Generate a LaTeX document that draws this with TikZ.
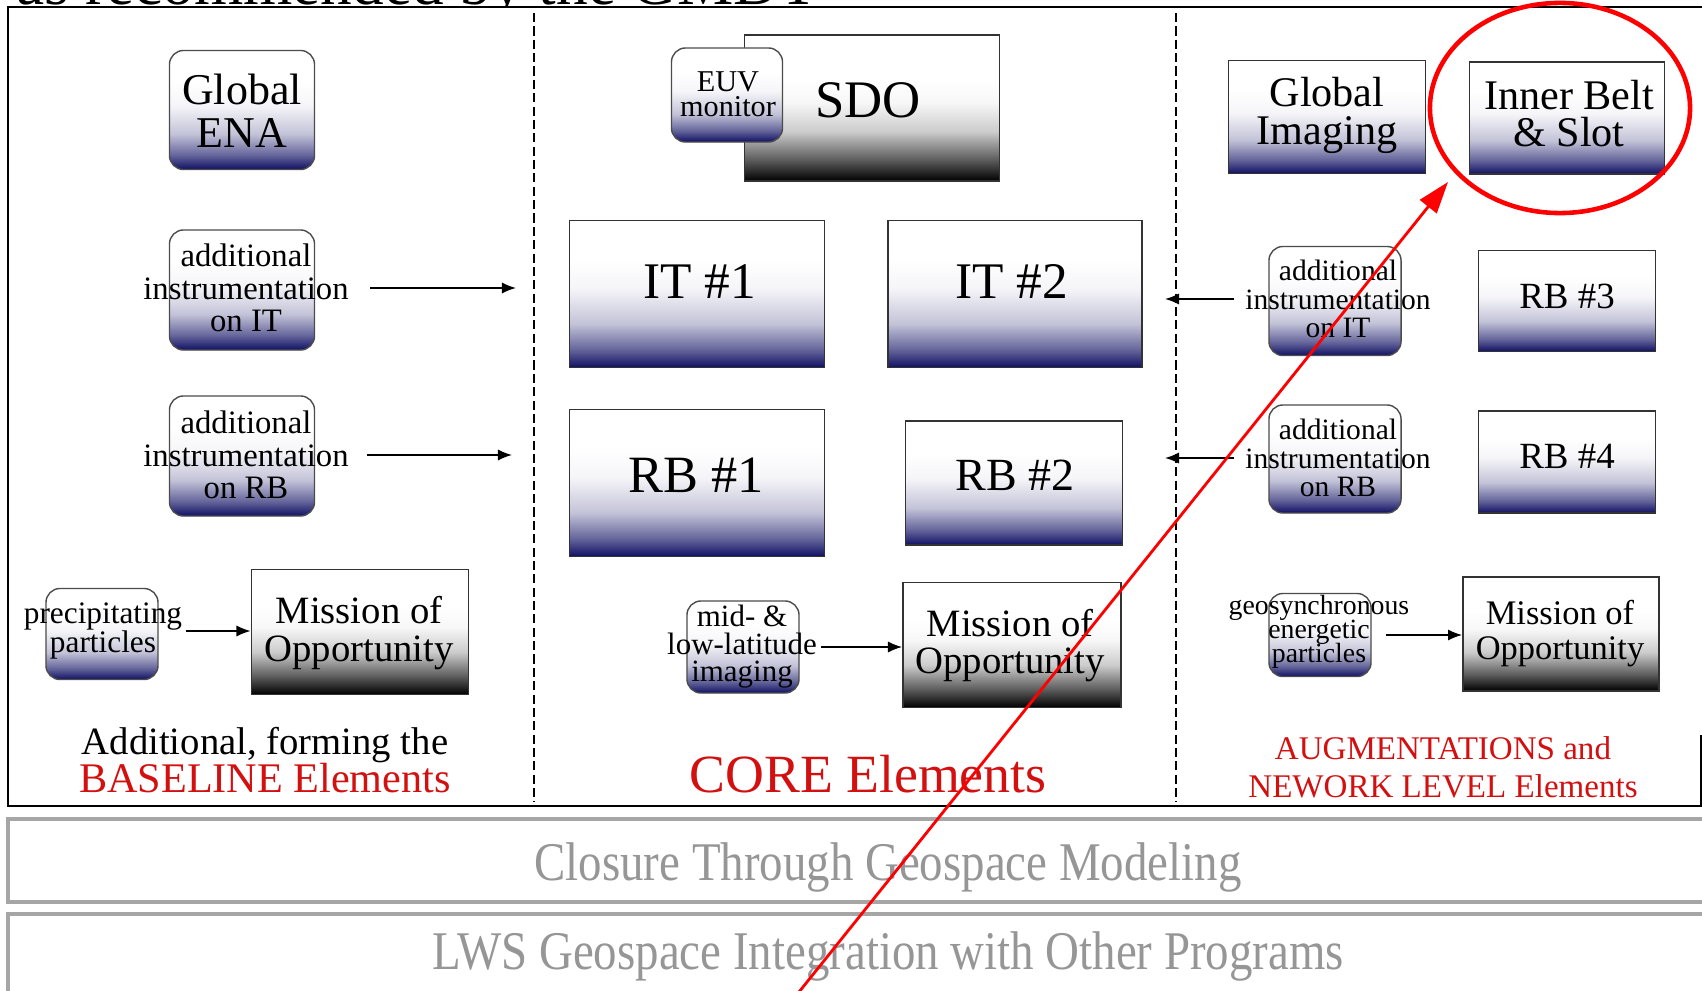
\documentclass[tikz,border=0pt]{standalone}
\usepackage{fontspec}
\setmainfont{Liberation Serif}
\usepackage{graphicx}
\usetikzlibrary{arrows.meta, shapes.geometric, positioning}

\definecolor{navyink}{RGB}{16,16,100}
\definecolor{capred}{RGB}{210,16,16}
\definecolor{bandgrey}{RGB}{150,150,150}

\pgfdeclareverticalshading{navyfade}{100bp}{color(0bp)=(navyink); color(25bp)=(navyink); color(31bp)=(navyink!65!white); color(40bp)=(navyink!25!white); color(52bp)=(navyink!4!white); color(62bp)=(white); color(100bp)=(white)}
\pgfdeclareverticalshading{greyfade}{100bp}{color(0bp)=(black); color(25bp)=(black); color(32bp)=(black!65); color(42bp)=(black!20); color(52bp)=(black!3); color(60bp)=(white); color(100bp)=(white)}

\newcommand\setfs[2]{\fontsize{#1}{#2}\selectfont\lineskiplimit=-20pt\relax}

\tikzset{
    softbox/.style={draw=black!70, line width=0.4pt, rounded corners=4pt, shading=navyfade, inner sep=0pt},
    bluebox/.style={draw=black!80, line width=0.5pt, shading=navyfade, inner sep=0pt},
    greybox/.style={draw=black!80, line width=0.5pt, shading=greyfade, inner sep=0pt},
    lbl/.style={align=center, inner sep=0pt},
    flow/.style={-{Latex[length=4pt,width=3.2pt]}, line width=0.45pt},
    band/.style={draw=black!35, line width=1.1pt},
    divider/.style={dash pattern=on 2.6pt off 1.2pt, line width=0.5pt}
}

\begin{document}
\begin{tikzpicture}[x=0.01cm, y=-0.01cm]
\useasboundingbox (0,0) rectangle (1702,991);

% title cut at the top edge
\begin{scope}
    \clip (0,0) rectangle (1702,7);
    \node[anchor=base west, inner sep=0pt, font=\setfs{18}{18}] (title) at (16,5) {as recommended by the GMDT};
\end{scope}

% frame and dividers
\draw[line width=0.7pt] (1702,7) -- (8,7) -- (8,806) -- (1701,806) -- (1701,735);
\draw[divider] (534,13) -- (534,802);
\draw[divider] (1176,13) -- (1176,802);

% baseline column
\node[softbox, minimum width=1.45cm, minimum height=1.19cm] (ena) at (242,110) {};
\node[lbl, font=\setfs{12.5}{12.3}] (enaT) at (242,111) {Global\\ENA};
\node[softbox, minimum width=1.45cm, minimum height=1.2cm] (itl) at (242,290) {};
\node[lbl, font=\setfs{9.3}{9.3}] (itlT) at (246,288) {additional\\instrumentation\\on IT};
\node[softbox, minimum width=1.45cm, minimum height=1.2cm] (rbl) at (242,456) {};
\node[lbl, font=\setfs{9.3}{9.3}] (rblT) at (246,455) {additional\\instrumentation\\on RB};
\node[softbox, minimum width=1.12cm, minimum height=0.91cm] (prec) at (102,634) {};
\node[lbl, font=\setfs{8.9}{8.5}] (precT) at (103,631) {precipitating\\particles};
\node[greybox, minimum width=2.17cm, minimum height=1.25cm] (moL) at (360,632) {};
\node[lbl, font=\setfs{11}{10.8}] (moLT) at (359,633) {Mission of\\Opportunity};
\node[lbl, font=\setfs{11}{10.8}] (capL) at (265,760) {Additional, forming the\\\setfs{12}{10.8}\textcolor{capred}{BASELINE Elements}};

\coordinate (itIn) at (516,288);
\coordinate (rbIn) at (512,455);
\draw[flow] ([xshift=6pt]itlT.east) -- (itIn);
\draw[flow] ([xshift=5pt]rblT.east) -- (rbIn);
\draw[flow] ([xshift=1pt]precT.east) -- (precT.east -| moL.west);

% core column
\node[greybox, minimum width=2.55cm, minimum height=1.46cm] (sdo) at (872,108) {};
\node[lbl, font=\setfs{15}{15}] (sdoT) at (868,100) {SDO};
\node[softbox, minimum width=1.11cm, minimum height=0.94cm] (euv) at (727,95) {};
\node[lbl, font=\setfs{8.6}{7.1}] (euvT) at (728,94) {EUV\\monitor};
\node[bluebox, minimum width=2.55cm, minimum height=1.47cm] (it1) at (697,294) {};
\node[lbl, font=\setfs{14.6}{14.6}] (it1T) at (700,282) {IT \#1};
\node[bluebox, minimum width=2.54cm, minimum height=1.47cm] (it2) at (1015,294) {};
\node[lbl, font=\setfs{14.6}{14.6}] (it2T) at (1012,282) {IT \#2};
\node[bluebox, minimum width=2.55cm, minimum height=1.47cm] (rb1) at (697,483) {};
\node[lbl, font=\setfs{14.9}{14.9}] (rb1T) at (696,475) {RB \#1};
\node[bluebox, minimum width=2.17cm, minimum height=1.24cm] (rb2) at (1014,483) {};
\node[lbl, font=\setfs{13.1}{13.1}] (rb2T) at (1015,475) {RB \#2};
\node[softbox, minimum width=1.12cm, minimum height=0.92cm] (mid) at (743,647) {};
\node[lbl, font=\setfs{8.8}{7.8}] (midT) at (742,647) {mid- \&\\low-latitude\\imaging};
\node[greybox, minimum width=2.18cm, minimum height=1.25cm] (moM) at (1012,645) {};
\node[lbl, font=\setfs{11}{10.5}] (moMT) at (1010,646) {Mission of\\Opportunity};
\node[lbl, font=\setfs{15.3}{15.3}, text=capred] (coreT) at (868,774) {CORE Elements};

\draw[flow] ([xshift=1pt]midT.east) -- (midT.east -| moM.west);

% augmentation column
\node[bluebox, minimum width=1.97cm, minimum height=1.13cm] (gi) at (1327,117) {};
\node[lbl, font=\setfs{12}{10.8}] (giT) at (1327,115) {Global\\Imaging};
\node[bluebox, minimum width=1.95cm, minimum height=1.12cm] (ib) at (1567,118) {};
\node[lbl, font=\setfs{12}{10.5}] (ibT) at (1569,114) {Inner Belt\\\& Slot};
\node[softbox, minimum width=1.32cm, minimum height=1.09cm] (itr) at (1335,301) {};
\node[lbl, font=\setfs{8.4}{8.2}] (itrT) at (1338,299) {additional\\instrumentation\\on IT};
\node[softbox, minimum width=1.32cm, minimum height=1.08cm] (rbr) at (1335,459) {};
\node[lbl, font=\setfs{8.4}{8.2}] (rbrT) at (1338,458) {additional\\instrumentation\\on RB};
\node[bluebox, minimum width=1.77cm, minimum height=1.01cm] (rb3) at (1567,301) {};
\node[lbl, font=\setfs{10.5}{10.5}] (rb3T) at (1567,296) {RB \#3};
\node[bluebox, minimum width=1.77cm, minimum height=1.02cm] (rb4) at (1567,462) {};
\node[lbl, font=\setfs{10.5}{10.5}] (rb4T) at (1567,456) {RB \#4};
\node[softbox, minimum width=1.02cm, minimum height=0.83cm] (geo) at (1320,635) {};
\node[lbl, font=\setfs{7.9}{6.8}] (geoT) at (1319,632) {geosynchronous\\energetic\\particles};
\node[greybox, minimum width=1.96cm, minimum height=1.14cm] (moR) at (1561,634) {};
\node[lbl, font=\setfs{9.8}{10}] (moRT) at (1560,634) {Mission of\\Opportunity};
\node[lbl, font=\setfs{9.4}{10.8}, text=capred] (augT) at (1443,767) {AUGMENTATIONS and\\NEWORK LEVEL Elements};

\coordinate (itOut) at (1165,299);
\coordinate (rbOut) at (1165,458);
\draw[flow] ([xshift=-3pt]itrT.west) -- (itOut);
\draw[flow] ([xshift=-3pt]rbrT.west) -- (rbOut);
\draw[flow] ([xshift=4pt]geo.east) -- (geo.east -| moR.west);

% lower bands
\draw[band] (8,819) rectangle (1712,902);
\draw[band] (8,914) rectangle (1712,1002);
\node[lbl, font=\setfs{15.5}{15.5}, text=bandgrey] (closure) at (888,867) {\scalebox{0.86}[1]{Closure Through Geospace Modeling}};
\node[lbl, font=\setfs{15.5}{15.5}, text=bandgrey] (lws) at (888,956) {\scalebox{0.86}[1]{LWS Geospace Integration with Other Programs}};

% red highlight
\node[draw=red, line width=1.3pt, ellipse, minimum width=2.6cm, minimum height=2.1cm] (ring) at (1560,108) {};
\coordinate (redTail) at (791,1002);
\coordinate (redTip) at (1448,182);
\draw[red, line width=0.8pt, -{Triangle[length=9pt,width=6pt]}] (redTail) -- (redTip);
\end{tikzpicture}
\end{document}
